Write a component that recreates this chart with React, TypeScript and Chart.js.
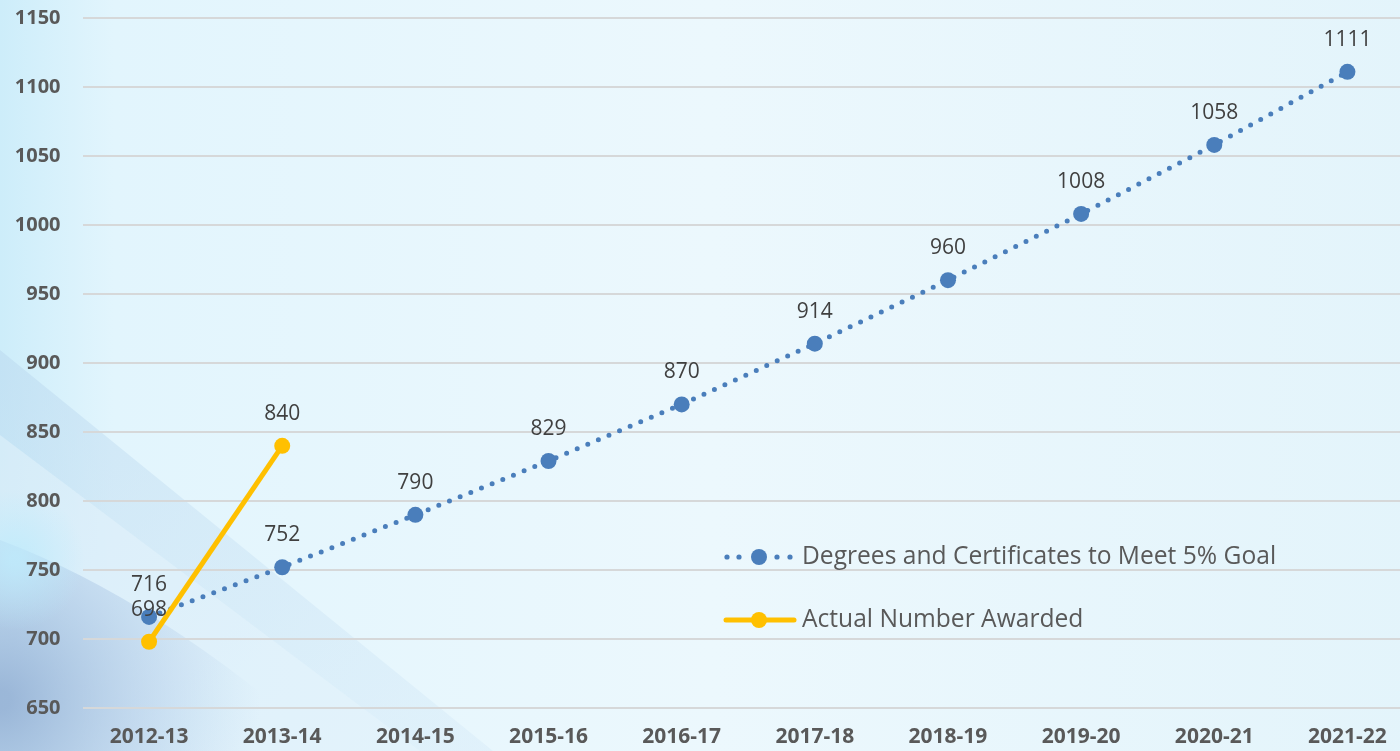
import React, { useEffect, useRef } from "react";
import { Chart, registerables } from "chart.js";

Chart.register(...registerables);

const categories = ["2012-13", "2013-14", "2014-15", "2015-16", "2016-17", "2017-18", "2018-19", "2019-20", "2020-21", "2021-22"];
const goalValues = [716, 752, 790, 829, 870, 914, 960, 1008, 1058, 1111];
const actualValues: (number | null)[] = [698, 840, null, null, null, null, null, null, null, null];
const goalLabel = "Degrees and Certificates to Meet 5% Goal";
const actualLabel = "Actual Number Awarded";
const yMin = 650;
const yMax = 1150;
const yStep = 50;

const BLUE = "#4a7ebb";
const GOLD = "#ffc000";
const SHIFT = 16; // canvas is moved up by this many px

const bgPlugin = {
  id: "bg",
  beforeDraw(chart: any) {
    const { ctx, width, height } = chart;
    ctx.save();
    const g = ctx.createLinearGradient(0, 0, width, 0);
    g.addColorStop(0, "#cdedfa");
    g.addColorStop(0.08, "#e2f5fd");
    g.addColorStop(0.5, "#ecf8fd");
    g.addColorStop(1, "#e3f4fb");
    ctx.fillStyle = g;
    ctx.fillRect(0, 0, width, height);
    ctx.translate(0, SHIFT);

    const g1 = ctx.createLinearGradient(0, 350, 450, 751);
    g1.addColorStop(0, "rgba(185,215,238,0.5)");
    g1.addColorStop(1, "rgba(205,228,245,0.3)");
    ctx.fillStyle = g1;
    ctx.beginPath();
    ctx.moveTo(0, 350);
    ctx.lineTo(493, 751);
    ctx.lineTo(0, 751);
    ctx.closePath();
    ctx.fill();

    ctx.fillStyle = "rgba(232,246,252,0.45)";
    ctx.beginPath();
    ctx.moveTo(0, 435);
    ctx.lineTo(420, 751);
    ctx.lineTo(0, 751);
    ctx.closePath();
    ctx.fill();

    const r = ctx.createRadialGradient(0, 700, 10, 0, 700, 260);
    r.addColorStop(0, "rgba(135,165,205,0.75)");
    r.addColorStop(0.6, "rgba(160,190,225,0.35)");
    r.addColorStop(1, "rgba(170,200,230,0)");
    ctx.fillStyle = r;
    ctx.beginPath();
    ctx.moveTo(0, 540);
    ctx.quadraticCurveTo(160, 600, 330, 751);
    ctx.lineTo(0, 751);
    ctx.closePath();
    ctx.fill();

    const r2 = ctx.createRadialGradient(15, 560, 5, 15, 560, 70);
    r2.addColorStop(0, "rgba(190,235,252,0.8)");
    r2.addColorStop(1, "rgba(190,235,252,0)");
    ctx.fillStyle = r2;
    ctx.fillRect(0, 480, 120, 160);
    ctx.restore();
  },
};

const labelPlugin = {
  id: "labels",
  afterDatasetsDraw(chart: any) {
    const { ctx } = chart;
    ctx.save();
    ctx.font = "21px 'Open Sans'";
    ctx.fillStyle = "#404040";
    ctx.textAlign = "center";
    ctx.textBaseline = "middle";
    chart.data.datasets.forEach((ds: any, di: number) => {
      const meta = chart.getDatasetMeta(di);
      meta.data.forEach((pt: any, i: number) => {
        const v = ds.data[i];
        if (v == null) return;
        ctx.fillText(String(v), pt.x, pt.y - 32);
      });
    });
    ctx.restore();
  },
};

const legendPlugin = {
  id: "customLegend",
  afterDraw(chart: any) {
    const { ctx } = chart;
    ctx.save();
    ctx.translate(0, SHIFT);
    const items = [
      { label: goalLabel, color: BLUE, dotted: true, y: 557 },
      { label: actualLabel, color: GOLD, dotted: false, y: 620 },
    ];
    items.forEach((it) => {
      ctx.strokeStyle = it.color;
      ctx.fillStyle = it.color;
      if (it.dotted) {
        [727, 739, 777, 790].forEach((x) => {
          ctx.beginPath();
          ctx.arc(x, it.y, 2.6, 0, Math.PI * 2);
          ctx.fill();
        });
      } else {
        ctx.lineWidth = 5;
        ctx.lineCap = "round";
        ctx.beginPath();
        ctx.moveTo(726, it.y);
        ctx.lineTo(794, it.y);
        ctx.stroke();
      }
      ctx.beginPath();
      ctx.arc(759, it.y, 8, 0, Math.PI * 2);
      ctx.fill();
      ctx.font = "24.6px 'Open Sans'";
      ctx.fillStyle = "#595959";
      ctx.textAlign = "left";
      ctx.textBaseline = "middle";
      ctx.fillText(it.label, 802, it.y);
    });
    ctx.restore();
  },
};

export default function App() {
  const ref = useRef<HTMLCanvasElement>(null);
  useEffect(() => {
    if (!ref.current) return;
    const chart = new Chart(ref.current, {
      type: "line",
      data: {
        labels: categories,
        datasets: [
          {
            label: actualLabel,
            data: actualValues,
            borderColor: GOLD,
            backgroundColor: GOLD,
            borderWidth: 5,
            pointRadius: 8,
            pointBorderWidth: 0,
            pointBackgroundColor: GOLD,
            spanGaps: false,
            order: 0,
          },
          {
            label: goalLabel,
            data: goalValues,
            borderColor: BLUE,
            backgroundColor: BLUE,
            borderWidth: 5,
            borderDash: [0, 11.5],
            borderCapStyle: "round",
            pointRadius: 8,
            pointBorderWidth: 0,
            pointBackgroundColor: BLUE,
            order: 1,
          },
        ],
      },
      options: {
        responsive: false,
        animation: false,
        layout: { padding: { top: 1, right: 0, bottom: 0, left: 0 } },
        plugins: {
          legend: { display: false },
          tooltip: { enabled: false },
          title: { display: false },
        },
        scales: {
          x: {
            offset: true,
            grid: { display: false, drawTicks: false },
            border: { display: false },
            ticks: {
              color: "#595959",
              font: { family: "'Open Sans'", size: 21, weight: "bold" },
              padding: 16,
              maxRotation: 0,
              autoSkip: false,
            },
            afterFit: (s: any) => {
              s.height = 43;
            },
          },
          y: {
            min: yMin,
            max: yMax,
            grid: { color: "#d6d8d9", lineWidth: 2, drawTicks: false },
            border: { display: false },
            ticks: {
              stepSize: yStep,
              color: "#595959",
              font: { family: "'Open Sans'", size: 20, weight: "bold" },
              padding: 22,
              callback: (v: any) => String(v),
            },
            afterFit: (s: any) => {
              s.width = 82.5;
            },
          },
        },
      },
      plugins: [bgPlugin, labelPlugin, legendPlugin],
    } as any);
    return () => chart.destroy();
  }, []);
  return (
    <div style={{ position: "fixed", left: 0, top: 0, width: 1400, height: 751, overflow: "hidden" }}>
      <canvas
        ref={ref}
        width={1422}
        height={767}
        style={{ display: "block", position: "absolute", left: 0, top: -SHIFT, width: 1422, height: 767 }}
      />
    </div>
  );
}
